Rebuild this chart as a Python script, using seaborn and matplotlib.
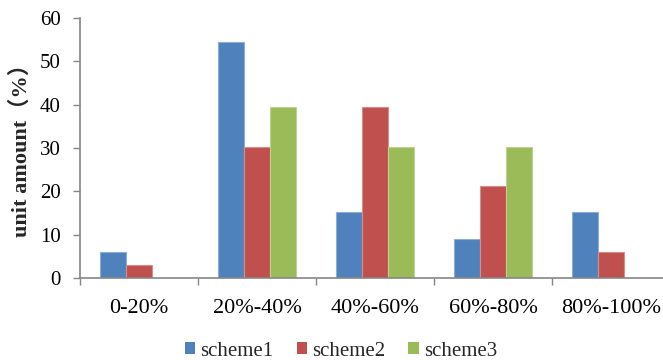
import matplotlib
matplotlib.use("Agg")
import matplotlib.pyplot as plt
import matplotlib.colors as mcolors
from matplotlib.ticker import FixedLocator
import numpy as np
import pandas as pd
import seaborn as sns

# Share of units (%) falling in each range, per scheme
categories = ["0-20%", "20%-40%", "40%-60%", "60%-80%", "80%-100%"]
schemes = ["scheme1", "scheme2", "scheme3"]
scheme1 = [6.06, 54.55, 15.15, 9.09, 15.15]
scheme2 = [3.03, 30.30, 39.39, 21.21, 6.06]
scheme3 = [0.0, 39.39, 30.30, 30.30, 0.0]
yticks = [0, 10, 20, 30, 40, 50, 60]

colors = ["#4F81BD", "#C0504D", "#9BBB59"]

df = pd.DataFrame({
    "range": categories * 3,
    "scheme": [s for s in schemes for _ in categories],
    "value": scheme1 + scheme2 + scheme3,
})

sns.set_theme(style="white")
plt.rcParams["font.family"] = ["Liberation Serif", "Noto Sans CJK SC"]
plt.rcParams["axes.edgecolor"] = "#868686"

W, H = 663, 360
fig = plt.figure(figsize=(W / 100, H / 100), dpi=100)
ax = fig.add_axes([80 / W, (H - 278) / H, 590 / W, 260 / H])

sns.barplot(data=df, x="range", y="value", hue="scheme", order=categories,
            hue_order=schemes, palette=colors, width=0.66, gap=0,
            saturation=1, ax=ax)

# light outline around each bar
for p in ax.patches:
    fc = np.array(mcolors.to_rgb(p.get_facecolor()))
    p.set_edgecolor(tuple(fc + (1 - fc) * 0.35))
    p.set_linewidth(0.8 if p.get_height() > 0 else 0)

handles, labels = ax.get_legend_handles_labels()
if ax.get_legend() is not None:
    ax.get_legend().remove()

ax.set_xlim(-0.5, 4.5)
ax.set_ylim(0, 60)
ax.set_yticks(yticks)
ax.set_yticklabels([str(t) for t in yticks], fontsize=15, color="black")
ax.set_xticks(range(len(categories)))
ax.set_xticklabels(categories, fontsize=16, color="black")
ax.xaxis.set_minor_locator(FixedLocator(np.arange(-0.5, 5, 1.0)))
ax.tick_params(axis="x", which="major", length=0, pad=15)
ax.tick_params(axis="x", which="minor", length=5, width=1, color="#868686", direction="out", bottom=True)
ax.tick_params(axis="y", which="major", length=5, width=1, color="#868686", direction="out", left=True, pad=9)

for side in ("top", "right"):
    ax.spines[side].set_visible(False)
for side in ("left", "bottom"):
    ax.spines[side].set_linewidth(1.2)

ax.set_xlabel("")
ax.set_ylabel("unit amount（%）", fontsize=16, fontweight="bold", va="center")
ax.yaxis.set_label_coords((21 - 80) / 590, (278 - 145) / 260)

fig.legend(handles, labels, loc="center", bbox_to_anchor=(341 / W, 1 - 351 / H),
           ncol=3, frameon=False, fontsize=15, handlelength=0.5, handleheight=0.5,
           handletextpad=0.25, columnspacing=1.1, borderaxespad=0)

fig.savefig("out.png", dpi=100)
